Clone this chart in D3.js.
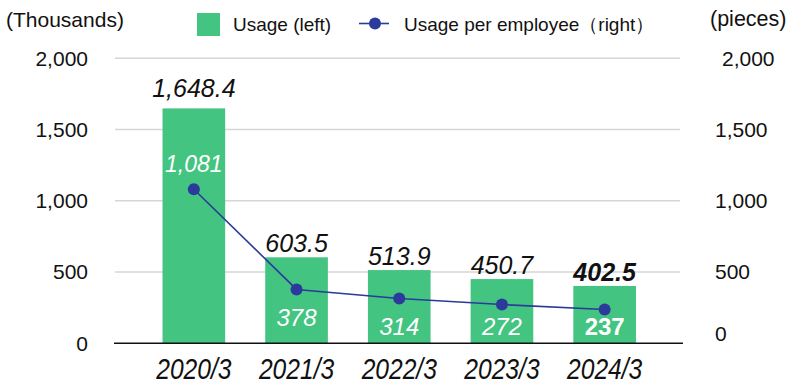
<!DOCTYPE html>
<html>
<head>
<meta charset="utf-8">
<script src="https://cdn.jsdelivr.net/npm/d3@7"></script>
<style>
  html, body { margin: 0; padding: 0; background: #fff; }
  svg { display: block; font-family: "Liberation Sans", Arial, Helvetica, sans-serif; }
</style>
</head>
<body>
<svg id="chart" width="800" height="385"></svg>
<script>
const categories = ["2020/3", "2021/3", "2022/3", "2023/3", "2024/3"];
const usage = [1648.4, 603.5, 513.9, 450.7, 402.5];
const usageLabels = ["1,648.4", "603.5", "513.9", "450.7", "402.5"];
const perEmployee = [1081, 378, 314, 272, 237];
const perEmployeeLabels = ["1,081", "378", "314", "272", "237"];
const tickValues = [0, 500, 1000, 1500, 2000];
const legendLabels = ["Usage (left)", "Usage per employee\uFF08right\uFF09"];
const leftUnit = "(Thousands)";
const rightUnit = "(pieces)";

const GREEN = "#43C481";
const BLUE = "#2B3A9B";

const svg = d3.select("#chart");

const y = d3.scaleLinear().domain([0, 2000]).range([343.3, 58.3]);
const yRight = d3.scaleLinear().domain([0, 2000]).range([343.3, 58.3]);
const x = d3.scaleBand().domain(categories).range([142.5, 656]).paddingInner(0.39).paddingOuter(0.195);

// gridlines
svg.append("g").selectAll("line").data(tickValues.filter(d => d > 0)).join("line")
  .attr("x1", 115).attr("x2", 680)
  .attr("y1", d => y(d)).attr("y2", d => y(d))
  .attr("stroke", "#d6d6d6").attr("stroke-width", 1.5);

// bars
svg.append("g").selectAll("rect").data(usage).join("rect")
  .attr("x", (d, i) => x(categories[i]))
  .attr("y", d => y(d))
  .attr("width", x.bandwidth())
  .attr("height", d => y(0) - y(d))
  .attr("fill", GREEN);

// baseline axis
svg.append("line").attr("x1", 114).attr("x2", 683).attr("y1", y(0)).attr("y2", y(0))
  .attr("stroke", "#111").attr("stroke-width", 1.5);

// left axis
const leftAxis = d3.axisLeft(y).tickValues(tickValues).tickFormat(d3.format(",")).tickSize(0).tickPadding(0);
const gl = svg.append("g").attr("transform", "translate(88,0)").call(leftAxis);
gl.select(".domain").remove();
gl.selectAll("text").attr("font-size", 21).attr("fill", "#111").attr("font-family", "Liberation Sans, Arial, sans-serif");

// right axis
const rightAxis = d3.axisRight(yRight).tickValues(tickValues).tickFormat(d3.format(",")).tickSize(0).tickPadding(0);
const gr = svg.append("g").attr("transform", "translate(715,0)").call(rightAxis);
gr.select(".domain").remove();
gr.selectAll("text").attr("font-size", 21).attr("fill", "#111").attr("font-family", "Liberation Sans, Arial, sans-serif");
gr.selectAll(".tick").filter(d => d === 0).select("text").attr("y", -10);
gr.selectAll(".tick").filter(d => d === 2000).select("text").attr("x", 7);

// x axis labels (condensed italic)
svg.append("g").selectAll("text").data(categories).join("text")
  .attr("transform", d => `translate(${x(d) + x.bandwidth() / 2},379) scale(0.82,1)`)
  .attr("text-anchor", "middle")
  .attr("font-size", 30).attr("font-style", "italic").attr("fill", "#111")
  .text(d => d);

// line
const cx = (d, i) => x(categories[i]) + x.bandwidth() / 2;
const line = d3.line().x((d, i) => cx(d, i)).y(d => yRight(d));
svg.append("path").datum(perEmployee).attr("d", line)
  .attr("fill", "none").attr("stroke", BLUE).attr("stroke-width", 1.6);
svg.append("g").selectAll("circle").data(perEmployee).join("circle")
  .attr("cx", cx).attr("cy", d => yRight(d)).attr("r", 6).attr("fill", BLUE);

// bar value labels
const last = usage.length - 1;
svg.append("g").selectAll("text").data(usage).join("text")
  .attr("x", cx)
  .attr("y", (d, i) => y(d) - (i === 0 ? 20 : 14))
  .attr("dy", "0.35em")
  .attr("text-anchor", "middle")
  .attr("font-size", 25)
  .attr("font-style", "italic")
  .attr("font-weight", (d, i) => i === last ? "bold" : "normal")
  .attr("fill", "#111")
  .text((d, i) => usageLabels[i]);

// per employee labels (white)
svg.append("g").selectAll("text").data(perEmployee).join("text")
  .attr("x", cx)
  .attr("y", (d, i) => i === 0 ? yRight(d) - 25.5 : Math.min(yRight(d) + 28, 327))
  .attr("dy", "0.35em")
  .attr("text-anchor", "middle")
  .attr("font-size", (d, i) => i === 0 ? 23 : 24)
  .attr("font-style", (d, i) => i === last ? "normal" : "italic")
  .attr("font-weight", (d, i) => i === last ? "bold" : "normal")
  .attr("fill", "#fff")
  .text((d, i) => perEmployeeLabels[i]);

// unit titles
svg.append("text").attr("x", 6).attr("y", 20).attr("dy", "0.35em")
  .attr("font-size", 21).attr("fill", "#111").text(leftUnit);
svg.append("text").attr("x", 710).attr("y", 18).attr("dy", "0.35em")
  .attr("font-size", 21.5).attr("fill", "#111").text(rightUnit);

// legend
const lg = svg.append("g");
lg.append("rect").attr("x", 197).attr("y", 13).attr("width", 23).attr("height", 23).attr("fill", GREEN);
lg.append("text").attr("x", 233).attr("y", 24).attr("dy", "0.35em").attr("font-size", 19).attr("fill", "#111").text(legendLabels[0]);
lg.append("line").attr("x1", 359).attr("x2", 389).attr("y1", 23.5).attr("y2", 23.5).attr("stroke", BLUE).attr("stroke-width", 1.6);
lg.append("circle").attr("cx", 375).attr("cy", 23.5).attr("r", 6).attr("fill", BLUE);
lg.append("text").attr("x", 404).attr("y", 24).attr("dy", "0.35em").attr("font-size", 19).attr("fill", "#111").text(legendLabels[1]);
</script>
</body>
</html>
